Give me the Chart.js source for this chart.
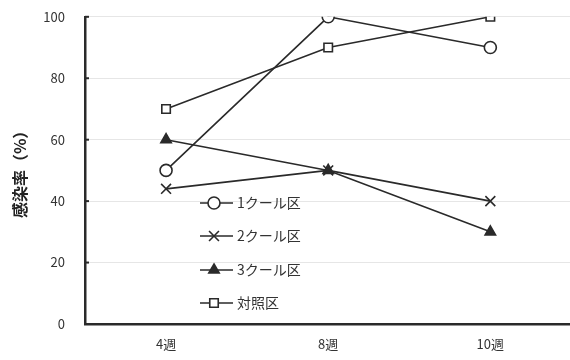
<!DOCTYPE html>
<html lang="ja">
<head>
  <meta charset="UTF-8">
  <title>感染率</title>
  <script src="https://cdn.jsdelivr.net/npm/chart.js"></script>
  <style>
    html, body {
      margin: 0;
      padding: 0;
      background: #fff;
      overflow: hidden;
    }
    .wrap {
      width: 580px;  /* a bit wider than the window: the x axis runs off the right edge */
      height: 371px;
      margin-top: -11px; /* pull the plot up so 100 sits near the top edge */
    }
  </style>
</head>
<body>
  <div class="wrap">
    <canvas id="chart" width="580" height="371"></canvas>
  </div>

  <script>
    // data
    const weeks = ['4週', '8週', '10週'];
    const kuru1 = [50, 100, 90];
    const kuru2 = [44, 50, 40];
    const kuru3 = [60, 50, 30];
    const taisho = [70, 90, 100];
    const yTicks = [0, 20, 40, 60, 80, 100];

    const ink = '#2a2a2a';
    const font = '"Noto Sans CJK JP", "Noto Sans", sans-serif';

    function series(label, data, style, radius, fill) {
      return {
        label: label,
        data: data,
        borderColor: ink,
        borderWidth: 1.6,
        pointStyle: style,
        pointRadius: radius,
        pointBorderWidth: 1.6,
        pointBorderColor: ink,
        pointBackgroundColor: fill,
        tension: 0
      };
    }

    // legend drawn inside the plot, rows of line-marker-line + text
    const innerLegend = {
      id: 'innerLegend',
      afterDatasetsDraw(chart) {
        const c = chart.ctx;
        const x0 = 200, rowY = [214, 247, 281, 314]; // canvas is shifted up 11px
        c.save();
        chart.data.datasets.forEach((ds, i) => {
          const y = rowY[i];
          c.strokeStyle = ink;
          c.lineWidth = 1.6;
          c.beginPath();
          c.moveTo(x0, y);
          c.lineTo(x0 + 33, y);
          c.stroke();
          c.fillStyle = ds.pointBackgroundColor;
          Chart.helpers.drawPoint(c, {
            pointStyle: ds.pointStyle,
            radius: ds.pointRadius,
            borderWidth: 1.6
          }, x0 + 14, y);
          c.fillStyle = '#333';
          c.font = '14px ' + font;
          c.textAlign = 'left';
          c.textBaseline = 'middle';
          c.fillText(ds.label, x0 + 37, y);
        });
        // small inward tick marks on the y axis
        const ys = chart.scales.y, a = chart.chartArea;
        c.strokeStyle = ink;
        c.lineWidth = 2;
        yTicks.forEach(v => {
          const py = ys.getPixelForValue(v);
          c.beginPath();
          c.moveTo(a.left, py);
          c.lineTo(a.left + 4, py);
          c.stroke();
        });
        c.restore();
      }
    };

    const chart = new Chart(document.getElementById('chart'), {
      type: 'line',
      data: {
        labels: weeks,
        datasets: [
          series('1クール区', kuru1, 'circle', 6, '#fff'),
          series('2クール区', kuru2, 'crossRot', 7, '#fff'),
          series('3クール区', kuru3, 'triangle', 6, ink),
          series('対照区', taisho, 'rect', 6, '#fff')
        ]
      },
      options: {
        responsive: false,
        animation: false,
        layout: { padding: { top: 0, right: 3, bottom: 6, left: 0 } },
        plugins: {
          legend: { display: false },
          tooltip: { enabled: false }
        },
        scales: {
          x: {
            offset: true,
            afterFit(scale) { scale.height = 30; },
            grid: { display: false, drawTicks: false },
            border: { display: true, color: ink, width: 2.5 },
            ticks: {
              color: '#333',
              padding: 12,
              font: { family: font, size: 13 }
            }
          },
          y: {
            min: 0,
            max: 100,
            afterFit(scale) { scale.width = 85; },
            grid: { color: '#e6e6e6', lineWidth: 1, drawTicks: false },
            border: { display: true, color: ink, width: 2.5 },
            ticks: {
              stepSize: 20,
              color: '#333',
              padding: 20,
              font: { family: font, size: 13 }
            },
            title: {
              display: true,
              text: '感染率（%）',
              color: '#222',
              padding: { top: 10, bottom: 0 },
              font: { family: font, size: 16, weight: 'bold' }
            }
          }
        }
      },
      plugins: [innerLegend]
    });
  </script>
</body>
</html>
